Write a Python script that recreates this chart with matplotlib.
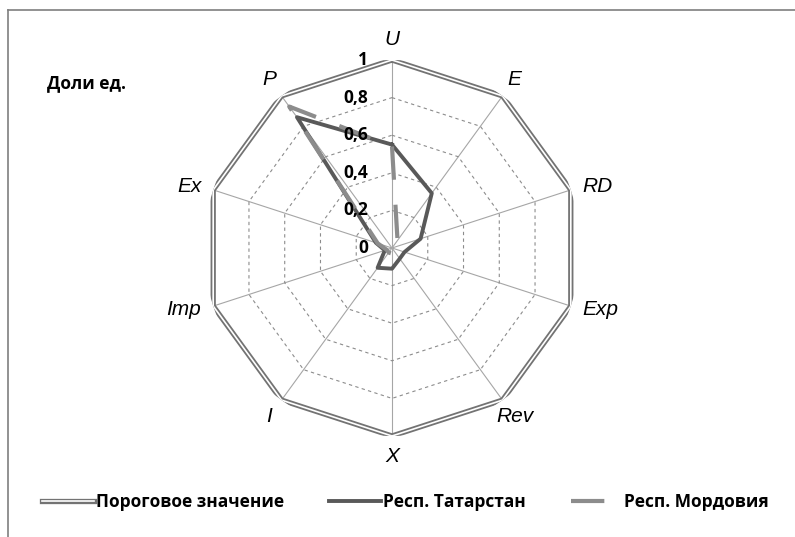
import numpy as np
import matplotlib
matplotlib.use("Agg")
import matplotlib.pyplot as plt
from matplotlib.lines import Line2D

# ---------------- data ----------------
categories = ["U", "E", "RD", "Exp", "Rev", "X", "I", "Imp", "Ex", "P"]
threshold = [1, 1, 1, 1, 1, 1, 1, 1, 1, 1]
tatarstan = [0.55, 0.36, 0.16, 0.07, 0.07, 0.11, 0.13, 0.04, 0.09, 0.86]
mordovia = [0.54, 0.05, 0.06, 0.04, 0.03, 0.03, 0.03, 0.03, 0.08, 0.93]
r_ticks = [0, 0.2, 0.4, 0.6, 0.8, 1]
r_tick_labels = ["0", "0,2", "0,4", "0,6", "0,8", "1"]
series_names = ["Пороговое значение", "Респ. Татарстан", "Респ. Мордовия"]
unit_label = "Доли ед."

plt.rcParams['font.family'] = ['Open Sans', 'DejaVu Sans']

W, H = 795, 537
fig = plt.figure(figsize=(W / 100, H / 100), dpi=100)

cx, cy, R = 392, 248, 188
ax = fig.add_axes([(cx - R) / W, (H - cy - R) / H, 2 * R / W, 2 * R / H], projection='polar')
ax.set_theta_offset(np.pi / 2)
ax.set_theta_direction(-1)
ax.set_ylim(0, 1)
ax.set_xticks([])
ax.set_yticks([])
ax.grid(False)
ax.spines['polar'].set_visible(False)
ax.patch.set_alpha(0)

n = len(categories)
theta = np.arange(n) * 2 * np.pi / n
theta_c = np.append(theta, theta[0])

def closed(v):
    return np.append(np.asarray(v, float), v[0])

# grid spokes
for t in theta:
    ax.plot([t, t], [0, 1], color='#a6a6a6', lw=0.8, zorder=1)
# dashed polygon gridlines
for rv in r_ticks[1:-1]:
    ax.plot(theta_c, [rv] * (n + 1), color='#8c8c8c', lw=0.8, ls=(0, (3, 3)), zorder=1)

# threshold: double line
ax.plot(theta_c, closed(threshold), color='#737373', lw=3.8, zorder=3, solid_joinstyle='miter')
ax.plot(theta_c, closed(threshold), color='white', lw=1.2, zorder=4, solid_joinstyle='miter')
# Tatarstan
ax.plot(theta_c, closed(tatarstan), color='#595959', lw=2.8, zorder=5)
# Mordovia
ax.plot(theta_c, closed(mordovia), color='#8c8c8c', lw=3.0, ls=(0, (8, 6)), zorder=6)

# radial tick labels
for rv, lab in zip(r_ticks, r_tick_labels):
    ax.annotate(lab, xy=(0, rv), xytext=(-17, 0), textcoords='offset points',
                ha='right', va='center', fontsize=12.5, fontweight='bold', zorder=7)

# category labels
for t, lab in zip(theta, categories):
    s, c = np.sin(t), np.cos(t)
    if abs(s) > 0.9:
        d = 9
        ha = 'left' if s > 0 else 'right'
    else:
        d = 15
        ha = 'center'
    ax.annotate(lab, xy=(t, 1), xytext=(d * s, d * c), textcoords='offset points',
                ha=ha, va='center', fontsize=15, fontstyle='italic',
                family=['Liberation Sans', 'DejaVu Sans'])

fig.text(47 / W, 1 - 83 / H, unit_label, ha='left', va='center', fontsize=12.5, fontweight='bold')

# frame lines (partial border)
fig.add_artist(Line2D([8 / W, 8 / W], [0, 1 - 10 / H], color='#7f7f7f', lw=1.2, transform=fig.transFigure))
fig.add_artist(Line2D([8 / W, 1], [1 - 10 / H, 1 - 10 / H], color='#7f7f7f', lw=1.2, transform=fig.transFigure))

# legend
h_thr = (Line2D([], [], color='#737373', lw=3.8), Line2D([], [], color='white', lw=1.2))
h_tat = Line2D([], [], color='#595959', lw=2.8)
h_mor = Line2D([], [], color='#8c8c8c', lw=3.0, ls=(0, (8, 6)))
fig.legend([h_thr, h_tat, h_mor], series_names, loc='center', ncol=3,
           bbox_to_anchor=(0.51, 1 - 502 / H), frameon=False, handlelength=3.0,
           handletextpad=0.1, columnspacing=2.6,
           prop={'size': 12.5, 'weight': 'bold'})

fig.savefig('out.png', dpi=100)
